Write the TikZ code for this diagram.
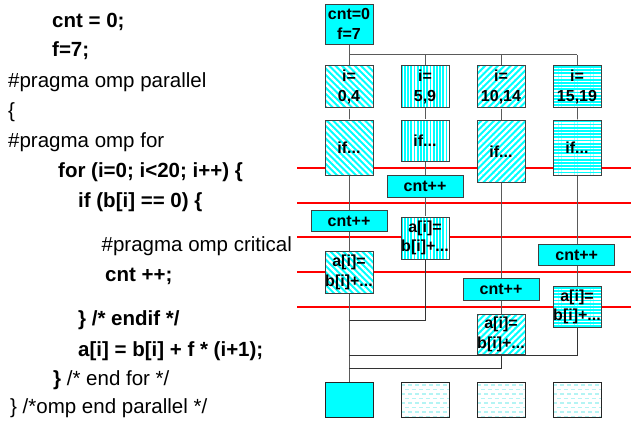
\documentclass[tikz,border=0pt]{standalone}
\usepackage{fontspec}
\setmainfont{Liberation Sans}
\usetikzlibrary{patterns.meta,backgrounds}
\definecolor{boxgray}{HTML}{404040}
\definecolor{linegray}{HTML}{5A5A5A}
\definecolor{cy}{HTML}{00FFFF}
\definecolor{lightcy}{HTML}{B4F4F4}
\begin{document}
\begin{tikzpicture}[x=1pt,y=-1pt,
  code/.style={anchor=base west, inner sep=0pt, font=\fontsize{20.5}{24}\selectfont},
  bcode/.style={anchor=base west, inner sep=0pt, font=\bfseries\fontsize{20.5}{24}\selectfont},
  box/.style={draw=boxgray, line width=0.9pt, minimum width=48pt, inner sep=0pt, align=center,
    font=\bfseries\fontsize{16}{19.5}\selectfont},
  widebox/.style={box, minimum width=76pt, minimum height=21.4pt, fill=cy},
  solidfill/.style={fill=cy},
  pdiagA/.style={preaction={fill=cy}, pattern={Lines[angle=-45,distance=4.5pt,line width=2.2pt]}, pattern color=white},
  pdiagB/.style={preaction={fill=cy}, pattern={Lines[angle=45,distance=4.5pt,line width=2.2pt]}, pattern color=white},
  pvert/.style={preaction={fill=cy}, pattern={Lines[angle=90,distance=3.2pt,line width=1.4pt]}, pattern color=white},
  phoriz/.style={preaction={fill=cy}, pattern={Lines[angle=0,distance=3.2pt,line width=1.4pt]}, pattern color=white},
  finbox/.style={box, minimum height=35pt, draw=black!85,
    path picture={
      \foreach \k in {0,2,4,6}{
        \draw[lightcy, line width=1.6pt, dash pattern=on 4pt off 3pt]
          ([yshift=-2.5pt-\k*4.5pt]path picture bounding box.north west) --
          ([yshift=-2.5pt-\k*4.5pt]path picture bounding box.north east);}
      \foreach \k in {1,3,5,7}{
        \draw[lightcy, line width=1.6pt, dash pattern=on 4pt off 3pt, dash phase=3.5pt]
          ([yshift=-2.5pt-\k*4.5pt]path picture bounding box.north west) --
          ([yshift=-2.5pt-\k*4.5pt]path picture bounding box.north east);}
    }},
  conn/.style={draw=linegray, line width=1pt},
  joinline/.style={draw=black!80, line width=0.9pt},
  syncline/.style={draw=red, line width=2pt}
]
\useasboundingbox (0,0) rectangle (631,427);

% ---- code ----
\node[bcode] (l1) at (52,28) {cnt = 0;};
\node[bcode] (l2) at (52,57) {f=7;};
\node[code] (l3) at (8,88) {\#pragma omp parallel};
\node[code] (l4) at (8,118) {\{};
\node[code] (l5) at (8,148) {\#pragma omp for};
\node[bcode] (l6) at (58,178) {for (i=0; i<20; i++) \{};
\node[bcode] (l7) at (78,208) {if (b[i] == 0) \{};
\node[code] (l8) at (101.5,251.5) {\#pragma omp critical};
\node[bcode] (l9) at (105,281.5) {cnt ++;};
\node[bcode] (l10) at (78,325) {\} /* endif */};
\node[bcode] (l11) at (78,356.5) {a[i] = b[i] + f * (i+1);};
\node[code] (l12) at (53,385) {\textbf{\}} /* end for */};
\node[code] (l13) at (10,413.3) {\} /*omp end parallel */};

% ---- boxes ----
\node[box, solidfill, minimum height=40pt] (c0) at (349,24) {cnt=0\\f=7};

\node[box, pdiagA, minimum height=42pt] (i1) at (349,86.7) {i=\\0,4};
\node[box, pvert,  minimum height=42pt] (i2) at (425,86.7) {i=\\5,9};
\node[box, pdiagB, minimum height=42pt] (i3) at (501,86.7) {i=\\10,14};
\node[box, phoriz, minimum height=42pt] (i4) at (577,86.7) {i=\\15,19};

\node[box, pdiagA, minimum height=55.7pt] (f1) at (349,147.85) {if...};
\node[box, pvert,  minimum height=41.7pt] (f2) at (425,140.85) {if...};
\node[box, pdiagB, minimum height=62.7pt] (f3) at (501,151.35) {if...};
\node[box, phoriz, minimum height=55.7pt] (f4) at (577,147.85) {if...};

\node[widebox] (k2) at (425,186.5) {cnt++};
\node[widebox] (k1) at (349,221) {cnt++};
\node[widebox] (k4) at (576.7,255) {cnt++};
\node[widebox] (k3) at (501,289.65) {cnt++};

\node[box, pvert,  minimum height=42pt] (a2) at (425,238) {a[i]=\\b[i]+...};
\node[box, pdiagA, minimum height=42pt] (a1) at (349,272.3) {a[i]=\\b[i]+...};
\node[box, phoriz, minimum height=41.4pt] (a4) at (577,307) {a[i]=\\b[i]+...};
\node[box, pdiagB, minimum height=40.3pt] (a3) at (501,334.2) {a[i]=\\b[i]+...};

\node[box, solidfill, minimum height=35pt, draw=black!85] (e1) at (349,399.8) {};
\node[finbox] (e2) at (425,399.8) {};
\node[finbox] (e3) at (501,399.8) {};
\node[finbox] (e4) at (577,399.8) {};

\coordinate (bar) at (349,55);
\coordinate (j2) at (349,320.3);
\coordinate (j4) at (349,355);
\coordinate (j3) at (349,368);

\begin{scope}[on background layer]
  \foreach \yy in {168.5,203.5,237.5,272,307}
    \draw[syncline] (297,\yy) -- (631,\yy);
  \draw[conn] (c0.south) -- (i1.north);
  \draw[conn] (bar) -- (bar -| i4.north);
  \draw[conn] (bar -| i2.north) -- (i2.north);
  \draw[conn] (bar -| i3.north) -- (i3.north);
  \draw[conn] (bar -| i4.north) -- (i4.north);
  \draw[conn] (i1.south) -- (e1.north);
  \draw[conn] (i2.south) -- (a2.south);
  \draw[conn] (i3.south) -- (a3.south);
  \draw[conn] (i4.south) -- (a4.south);
  \draw[joinline] (a2.south) |- (j2);
  \draw[joinline] (a4.south) |- (j4);
  \draw[joinline] (a3.south) |- (j3);
\end{scope}
\end{tikzpicture}
\end{document}
